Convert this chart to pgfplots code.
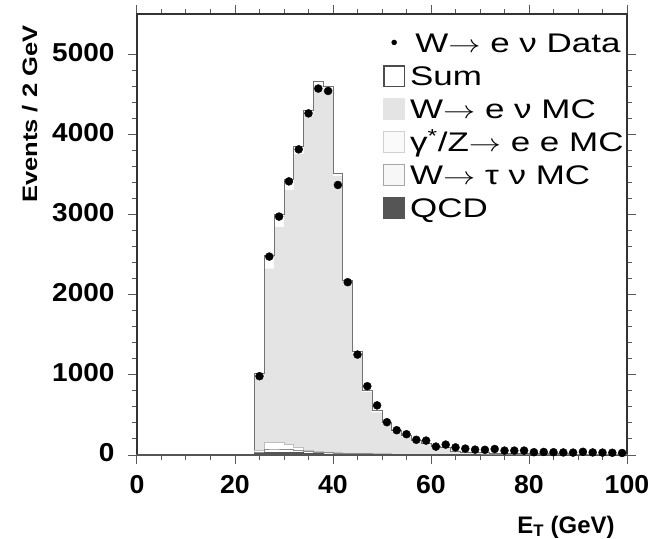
\documentclass[border=0pt]{standalone}
\usepackage{graphicx}
\usepackage{pgfplots}
\pgfplotsset{compat=1.18}
\usepackage{fontspec}
\setmainfont{Liberation Sans}
\definecolor{wmc}{RGB}{228,228,228}
\definecolor{sumline}{RGB}{115,115,115}
\definecolor{zline}{RGB}{190,190,190}
\definecolor{wtline}{RGB}{140,140,140}
\definecolor{qcd}{RGB}{85,85,85}
\newcommand\lstrut{\rule[-6bp]{0pt}{26bp}}
\newcommand\legtxt[1]{\lstrut\scalebox{1.3}[1]{#1}}
\begin{document}
\begin{tikzpicture}
\begin{axis}[
  at={(0,0)}, anchor=south west,
  scale only axis, width=490bp, height=441bp,
  xmin=0, xmax=100, ymin=0, ymax=5512,
  xtick={0,20,40,60,80,100}, ytick={0,1000,2000,3000,4000,5000},
  minor x tick num=3, minor y tick num=4,
  tick align=outside,
  major tick length=9bp, minor tick length=5bp,
  axis line style={draw=black!80, line width=1.2bp},
  every tick/.style={black!65, line width=1bp},
  /pgf/number format/assume math mode=true,
  /pgf/number format/1000 sep={},
  tick label style={font=\fontsize{26}{26}\selectfont\bfseries},
  xticklabel style={yshift=-8bp},
  yticklabel style={xshift=-10bp, yshift=2bp},
  yticklabel={\scalebox{1.08}[1]{\pgfmathprintnumber{\tick}}},
  xticklabel={\scalebox{1.03}[1]{\pgfmathprintnumber{\tick}}},
  xlabel={\bfseries E\textsubscript{T} (GeV)},
  xlabel style={font=\fontsize{24}{24}\selectfont, at={(axis description cs:0.9816,-0.1769)}, anchor=base east},
  ylabel={\bfseries\scalebox{1.22}[1]{Events / 2 GeV}},
  ylabel style={font=\fontsize{21}{21}\selectfont, at={(axis description cs:-0.204,0.982)}, anchor=base east},
  legend cell align=left,
  legend style={at={(axis description cs:0.502,0.9626)}, anchor=north west, draw=none, fill=none,
    inner sep=0pt, row sep=7.5bp, column sep=3bp, font=\fontsize{27}{27}\selectfont},
]
\addlegendimage{legend image code/.code={\path[draw=none,fill=none] (0bp,-11bp) rectangle (22bp,11bp); \fill[black] (11bp,1bp) circle (2.5bp);}}
\addlegendentry{\legtxt{\hspace{4bp}W$\rightarrow$ e ν Data}}
\addlegendimage{legend image code/.code={\draw[black!70, fill=none, line width=1.5bp] (0.75bp,-10.25bp) rectangle (21.25bp,10.25bp);}}
\addlegendentry{\legtxt{Sum}}
\addlegendimage{legend image code/.code={\fill[wmc, draw=none] (0bp,-11bp) rectangle (22bp,11bp);}}
\addlegendentry{\legtxt{W$\rightarrow$ e ν MC}}
\addlegendimage{legend image code/.code={\draw[black!18, fill=black!2, line width=1bp] (0.5bp,-10.5bp) rectangle (21.5bp,10.5bp);}}
\addlegendentry{\legtxt{γ\smash{\textsuperscript{*}}/Z$\rightarrow$ e e MC}}
\addlegendimage{legend image code/.code={\draw[black!35, fill=black!3, line width=1bp] (0.5bp,-10.5bp) rectangle (21.5bp,10.5bp);}}
\addlegendentry{\legtxt{W$\rightarrow$ τ ν MC}}
\addlegendimage{legend image code/.code={\fill[qcd, draw=none] (0bp,-11bp) rectangle (22bp,11bp);}}
\addlegendentry{\legtxt{QCD}}

% W -> e nu MC (filled)
\addplot[const plot, fill=wmc, draw=none, forget plot] table[row sep=\\]{
x y\\ 0 0\\ 24 960\\ 26 2330\\ 28 2850\\ 30 3310\\ 32 3760\\ 34 4250\\ 36 4620\\ 38 4575\\ 40 3490\\
42 2155\\ 44 1268\\ 46 790\\ 48 532\\ 50 385\\ 52 288\\ 54 230\\ 56 170\\ 58 137\\ 60 104\\ 62 85\\
64 41\\ 66 32\\ 68 27\\ 70 25\\ 72 22\\ 74 20\\ 76 18\\ 78 16\\ 80 14\\ 82 13\\ 84 12\\ 86 11\\ 88 10\\
90 9\\ 92 8\\ 94 8\\ 96 7\\ 98 7\\ 100 7\\
} \closedcycle;
% Sum outline
\addplot[const plot, draw=sumline, line width=1bp, forget plot] table[row sep=\\]{
x y\\ 0 8\\ 24 1020\\ 26 2490\\ 28 3010\\ 30 3445\\ 32 3850\\ 34 4310\\ 36 4665\\ 38 4610\\ 40 3520\\
42 2180\\ 44 1290\\ 46 810\\ 48 550\\ 50 400\\ 52 300\\ 54 240\\ 56 180\\ 58 145\\ 60 110\\ 62 90\\
64 45\\ 66 35\\ 68 30\\ 70 28\\ 72 25\\ 74 22\\ 76 20\\ 78 18\\ 80 16\\ 82 15\\ 84 14\\ 86 13\\ 88 12\\
90 11\\ 92 10\\ 94 10\\ 96 9\\ 98 9\\ 100 9\\
};
% gamma*/Z -> ee MC (stacked top)
\addplot[const plot, fill=white, draw=zline, line width=1bp, forget plot] table[row sep=\\]{
x y\\ 0 8\\ 24 60\\ 26 160\\ 28 160\\ 30 135\\ 32 90\\ 34 60\\ 36 45\\ 38 35\\ 40 30\\ 42 25\\ 44 22\\
46 20\\ 48 18\\ 50 15\\ 52 12\\ 54 10\\ 56 10\\ 58 8\\ 60 6\\ 64 4\\ 70 3\\ 80 2\\ 100 2\\
} \closedcycle;
% W -> tau nu MC
\addplot[const plot, fill=white, draw=wtline, line width=1bp, forget plot] table[row sep=\\]{
x y\\ 0 6\\ 24 35\\ 26 75\\ 28 75\\ 30 70\\ 32 55\\ 34 45\\ 36 35\\ 38 30\\ 40 25\\ 42 20\\ 44 18\\
46 15\\ 48 12\\ 50 10\\ 52 8\\ 54 8\\ 56 6\\ 58 6\\ 60 4\\ 70 2\\ 100 2\\
} \closedcycle;
% QCD
\addplot[const plot, fill=qcd, draw=qcd, line width=0.6bp, forget plot] table[row sep=\\]{
x y\\ 0 5\\ 24 20\\ 26 35\\ 28 35\\ 30 35\\ 32 30\\ 34 25\\ 36 20\\ 38 15\\ 40 12\\ 42 10\\ 44 10\\
46 8\\ 48 8\\ 50 6\\ 52 5\\ 54 5\\ 56 4\\ 58 4\\ 60 3\\ 70 2\\ 100 2\\
} \closedcycle;
% Data
\addplot[only marks, mark=*, mark size=4bp, black, forget plot] table[row sep=\\]{
x y\\ 25 985\\ 27 2480\\ 29 2980\\ 31 3420\\ 33 3820\\ 35 4270\\ 37 4580\\ 39 4550\\ 41 3375\\
43 2160\\ 45 1255\\ 47 860\\ 49 620\\ 51 410\\ 53 310\\ 55 260\\ 57 190\\ 59 180\\ 61 105\\
63 130\\ 65 95\\ 67 80\\ 69 67\\ 71 65\\ 73 75\\ 75 55\\ 77 55\\ 79 55\\ 81 35\\ 83 38\\ 85 35\\
87 32\\ 89 30\\ 91 40\\ 93 32\\ 95 30\\ 97 28\\ 99 25\\
};
\end{axis}
\pgfresetboundingbox
\path[use as bounding box] (-137bp,-84bp) rectangle (516bp,455bp);
\end{tikzpicture}
\end{document}
